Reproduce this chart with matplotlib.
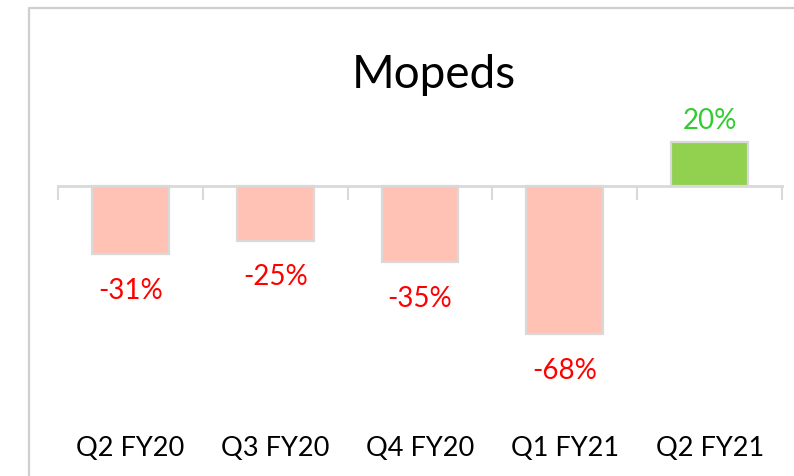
import matplotlib
matplotlib.use("Agg")
import matplotlib.pyplot as plt
import matplotlib.transforms as mtransforms
from matplotlib.lines import Line2D

categories = ["Q2 FY20", "Q3 FY20", "Q4 FY20", "Q1 FY21", "Q2 FY21"]
growth = [-31, -25, -35, -68, 20]
title = "Mopeds"

plt.rcParams['font.family'] = ['Lato', 'DejaVu Sans']

W, H = 794, 477
fig = plt.figure(figsize=(W / 100, H / 100), dpi=100)

# axes: x from 58px to 782px, y from 100px to 400px (top-origin pixels)
ax = fig.add_axes([58 / W, 1 - 400 / H, (782 - 58) / W, 300 / H])
px_per_pct = 2.18
ax.set_xlim(-0.5, len(categories) - 0.5)
ax.set_ylim(-(400 - 187) / px_per_pct, (187 - 100) / px_per_pct)

pos_color, neg_color = "#92D050", "#FFC2B5"
colors = [pos_color if v > 0 else neg_color for v in growth]
x = list(range(len(categories)))
ax.bar(x, growth, width=0.53, color=colors, edgecolor="#D9D9D9", linewidth=1.6, zorder=2)

for xi, v in zip(x, growth):
    if v >= 0:
        ax.annotate(f"{v}%", (xi, v), xytext=(0, 14), textcoords="offset pixels",
                    ha="center", va="baseline", fontsize=20, color="#33CC33")
    else:
        ax.annotate(f"{v}%", (xi, v), xytext=(0, -44), textcoords="offset pixels",
                    ha="center", va="baseline", fontsize=20, color="#FF0000")

# axis line at zero with ticks at category boundaries
for s in ["top", "right", "left"]:
    ax.spines[s].set_visible(False)
ax.spines["bottom"].set_position(("data", 0))
ax.spines["bottom"].set_color("#D9D9D9")
ax.spines["bottom"].set_linewidth(2)
ax.spines["bottom"].set_zorder(1)
ax.set_yticks([])
ax.set_xticks([i - 0.5 for i in range(len(categories) + 1)])
ax.set_xticklabels([])
ax.tick_params(axis="x", direction="out", length=10, width=1.5, color="#D9D9D9")

label_tr = mtransforms.blended_transform_factory(ax.transData, fig.transFigure)
for xi, c in zip(x, categories):
    ax.text(xi, 1 - 456 / H, c, transform=label_tr,
            ha="center", va="baseline", fontsize=19.5, color="black")

fig.text(434 / W, 1 - 88 / H, title, ha="center", va="baseline", fontsize=33, color="black")

# chart frame (left and top border)
fig.add_artist(Line2D([28.5 / W, 28.5 / W, 1], [0, 1 - 8.5 / H, 1 - 8.5 / H],
                      transform=fig.transFigure, color="#CFCFCF", linewidth=1.6))

fig.savefig("out.png", dpi=100)
